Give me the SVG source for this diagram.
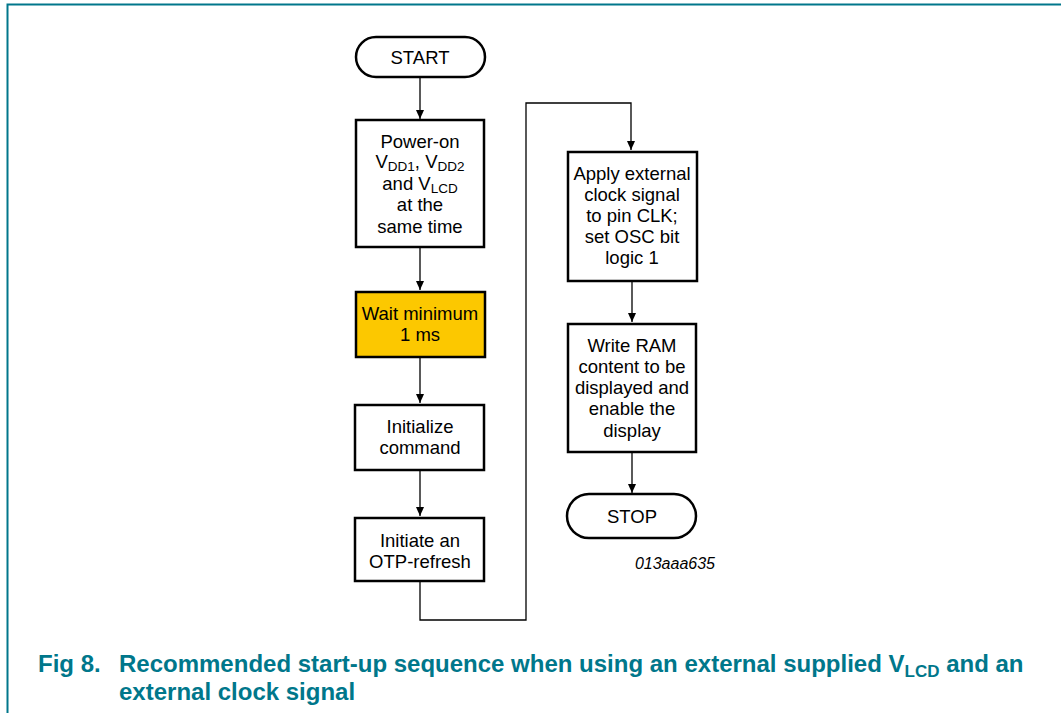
<svg xmlns="http://www.w3.org/2000/svg" width="1061" height="713" viewBox="0 0 1061 713">
<style>
.box{fill:#fff;stroke:#000;stroke-width:2.5}
.wait{fill:#fcc800;stroke:#000;stroke-width:2.5}
.t{font-family:"Liberation Sans",Arial,sans-serif;font-size:18.5px;fill:#000;text-anchor:middle}
.sub{font-size:13.5px}
.c{fill:none;stroke:#000;stroke-width:1.3}
.cap{font-family:"Liberation Sans",Arial,sans-serif;font-size:24px;font-weight:bold;fill:#00778b}
</style>
<defs>
<marker id="ah" markerWidth="10" markerHeight="10" refX="9" refY="5" orient="auto" markerUnits="userSpaceOnUse">
<path d="M0,1 L9,5 L0,9 Z" fill="#000"/>
</marker>
</defs>
<path d="M1061,4.5 H7.5 V713" fill="none" stroke="#00778b" stroke-width="2"/>
<g id="connectors">
<line class="c" x1="420" y1="77" x2="420" y2="119" marker-end="url(#ah)"/>
<line class="c" x1="420" y1="248" x2="420" y2="290" marker-end="url(#ah)"/>
<line class="c" x1="420" y1="358" x2="420" y2="403" marker-end="url(#ah)"/>
<line class="c" x1="420" y1="471" x2="420" y2="516" marker-end="url(#ah)"/>
<path class="c" d="M420,582 V620 H526 V103 H631 V150" marker-end="url(#ah)"/>
<line class="c" x1="632" y1="282" x2="632" y2="322" marker-end="url(#ah)"/>
<line class="c" x1="632" y1="453" x2="632" y2="493" marker-end="url(#ah)"/>
</g>
<g id="start">
<rect class="box" x="356" y="37" width="129" height="40" rx="20" ry="20"/>
<text class="t" x="420" y="64">START</text>
</g>
<g id="power">
<rect class="box" x="356" y="120" width="128" height="127"/>
<text class="t" x="420" y="148">Power-on</text>
<text class="t" x="420" y="168">V<tspan class="sub" dy="3">DD1</tspan><tspan dy="-3">, V</tspan><tspan class="sub" dy="3">DD2</tspan></text>
<text class="t" x="420" y="190">and V<tspan class="sub" dy="3">LCD</tspan></text>
<text class="t" x="420" y="211">at the</text>
<text class="t" x="420" y="233">same time</text>
</g>
<g id="wait">
<rect class="wait" x="356" y="292" width="129" height="65"/>
<text class="t" x="420" y="320">Wait minimum</text>
<text class="t" x="420" y="341">1 ms</text>
</g>
<g id="init">
<rect class="box" x="355" y="405" width="129" height="65"/>
<text class="t" x="420" y="433">Initialize</text>
<text class="t" x="420" y="454">command</text>
</g>
<g id="otp">
<rect class="box" x="355" y="518" width="129" height="63"/>
<text class="t" x="420" y="547">Initiate an</text>
<text class="t" x="420" y="568">OTP-refresh</text>
</g>
<g id="clock">
<rect class="box" x="568" y="152" width="129" height="129"/>
<text class="t" x="632" y="180">Apply external</text>
<text class="t" x="632" y="201">clock signal</text>
<text class="t" x="632" y="222">to pin CLK;</text>
<text class="t" x="632" y="243">set OSC bit</text>
<text class="t" x="632" y="264">logic 1</text>
</g>
<g id="ram">
<rect class="box" x="568" y="324" width="128" height="128"/>
<text class="t" x="632" y="352">Write RAM</text>
<text class="t" x="632" y="373">content to be</text>
<text class="t" x="632" y="394">displayed and</text>
<text class="t" x="632" y="415">enable the</text>
<text class="t" x="632" y="437">display</text>
</g>
<g id="stop">
<rect class="box" x="567" y="494" width="129" height="44" rx="22" ry="22"/>
<text class="t" x="632" y="523">STOP</text>
</g>
<text x="715" y="569" font-family="'Liberation Sans',Arial,sans-serif" font-size="16" font-style="italic" text-anchor="end">013aaa635</text>
<text class="cap" x="38" y="672">Fig 8.</text>
<text class="cap" x="119" y="672">Recommended start-up sequence when using an external supplied V<tspan font-size="17" dy="5">LCD</tspan><tspan dy="-5"> and an</tspan></text>
<text class="cap" x="119" y="700">external clock signal</text>
</svg>
